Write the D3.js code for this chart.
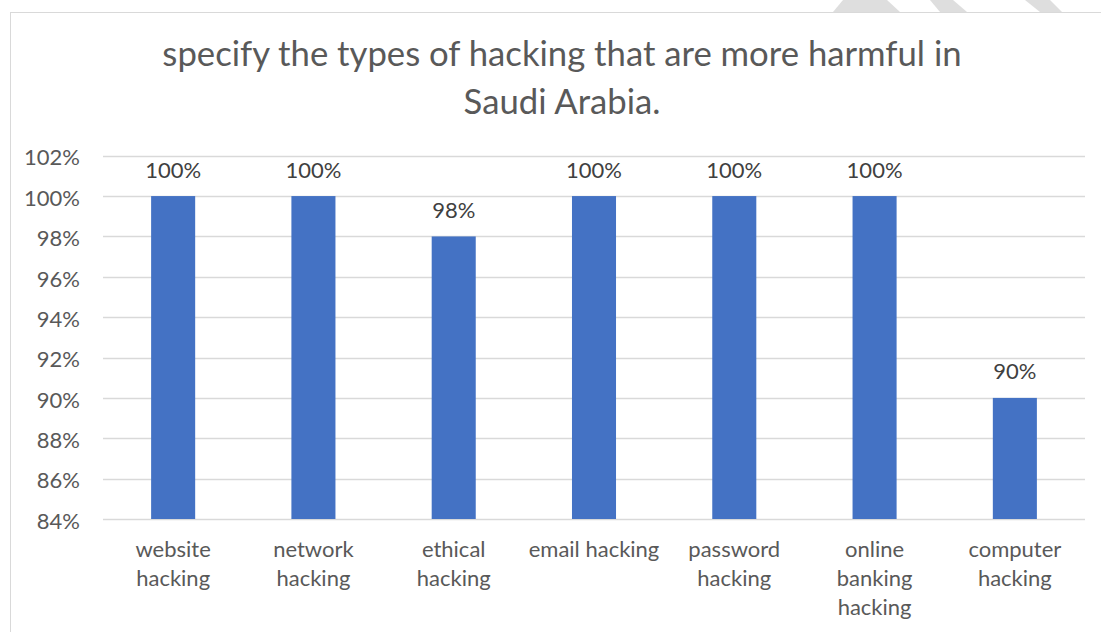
<!DOCTYPE html>
<html>
<head>
<meta charset="utf-8">
<script src="https://cdn.jsdelivr.net/npm/d3@7"></script>
<style>
  html, body { margin: 0; padding: 0; background: #ffffff; }
  svg { display: block; }
  text { font-family: Lato, "Noto Sans", sans-serif; }
</style>
</head>
<body>
<svg id="chart" width="1101" height="632"></svg>
<script>
// Survey results: share of respondents rating each hacking type as harmful
const categories = [
  ["website", "hacking"],
  ["network", "hacking"],
  ["ethical", "hacking"],
  ["email hacking"],
  ["password", "hacking"],
  ["online", "banking", "hacking"],
  ["computer", "hacking"]
];
const values = [1.00, 1.00, 0.98, 1.00, 1.00, 1.00, 0.90];
const yTicks = [0.84, 0.86, 0.88, 0.90, 0.92, 0.94, 0.96, 0.98, 1.00, 1.02];
const titleLines = ["specify the types of hacking that are more harmful in", "Saudi Arabia."];

const svg = d3.select("#chart");
const pct = d3.format(".0%");
const labelSize = "22px";

// faint diagonal watermark bands peeking above the chart frame
const bands = [
  [[833, 12], [843, 0], [887, 0], [900, 12]],
  [[930, 0], [953, 0], [967, 12], [940, 12]],
  [[1025, 0], [1050, 0], [1062, 12], [1040, 12]]
];
svg.selectAll("path.band").data(bands).join("path")
  .attr("class", "band")
  .attr("d", d => d3.line()(d) + "Z")
  .attr("fill", "#dedede");

// chart frame (runs off the right and bottom edges)
svg.append("rect")
  .attr("x", 10.5).attr("y", 12.5)
  .attr("width", 1200).attr("height", 700)
  .attr("fill", "#ffffff")
  .attr("stroke", "#d9d9d9").attr("stroke-width", 1);

// title
svg.append("g").selectAll("text").data(titleLines).join("text")
  .attr("x", 562)
  .attr("y", (d, i) => 66 + i * 47.5)
  .attr("text-anchor", "middle")
  .attr("fill", "#595959")
  .style("font-size", "34.7px")
  .text(d => d);

const plot = { left: 103, right: 1085, top: 155.7, bottom: 519 };

const x = d3.scaleBand()
  .domain(d3.range(values.length))
  .range([plot.left, plot.right])
  .paddingInner(0.686)
  .paddingOuter(0.343);

const y = d3.scaleLinear()
  .domain([0.84, 1.02])
  .range([plot.bottom, plot.top]);

// horizontal gridlines
svg.append("g").selectAll("line").data(yTicks).join("line")
  .attr("x1", plot.left).attr("x2", plot.right)
  .attr("y1", d => Math.round(y(d)) + 0.5)
  .attr("y2", d => Math.round(y(d)) + 0.5)
  .attr("stroke", "#d9d9d9").attr("stroke-width", 1.3);

// y axis labels
const yAxis = d3.axisLeft(y).tickValues(yTicks).tickFormat(pct).tickSize(0).tickPadding(0);
const yg = svg.append("g").attr("transform", `translate(80,0)`).call(yAxis);
yg.select(".domain").remove();
yg.selectAll("text")
  .attr("fill", "#595959")
  .attr("dy", "0.42em")
  .style("font-size", labelSize)
  .style("font-family", "Lato, sans-serif");

// bars
svg.append("g").selectAll("rect").data(values).join("rect")
  .attr("x", (d, i) => x(i))
  .attr("width", x.bandwidth())
  .attr("y", d => y(d))
  .attr("height", d => y(0.84) - y(d))
  .attr("fill", "#4472c4");

// value labels
svg.append("g").selectAll("text").data(values).join("text")
  .attr("x", (d, i) => x(i) + x.bandwidth() / 2)
  .attr("y", d => y(d) - 18.5)
  .attr("text-anchor", "middle")
  .attr("fill", "#404040")
  .style("font-size", labelSize)
  .text(d => pct(d));

// category labels, one tspan per line
const cat = svg.append("g").selectAll("text").data(categories).join("text")
  .attr("text-anchor", "middle")
  .attr("fill", "#595959")
  .style("font-size", labelSize);
cat.selectAll("tspan").data((d, i) => d.map(s => ({ s, i }))).join("tspan")
  .attr("x", d => x(d.i) + x.bandwidth() / 2)
  .attr("y", (d, j) => 557 + j * 29)
  .text(d => d.s);
</script>
</body>
</html>
